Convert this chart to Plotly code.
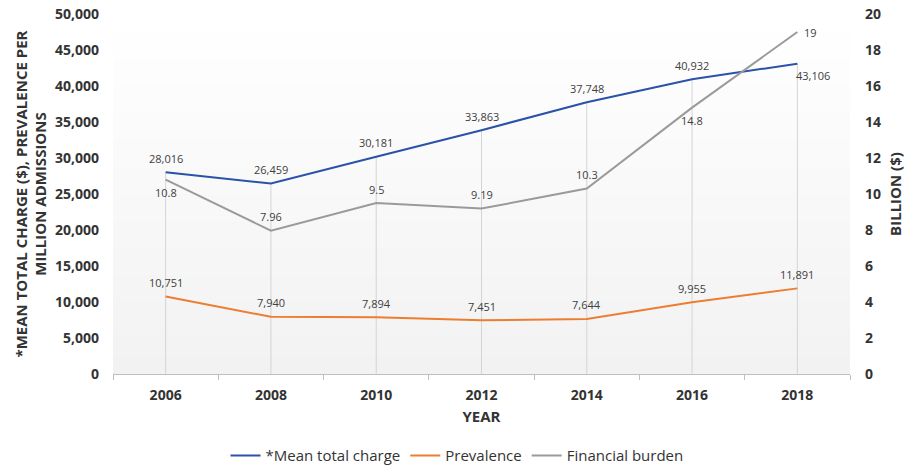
import plotly.graph_objects as go

years = ["2006", "2008", "2010", "2012", "2014", "2016", "2018"]
mean_charge = [28016, 26459, 30181, 33863, 37748, 40932, 43106]
prevalence = [10751, 7940, 7894, 7451, 7644, 9955, 11891]
burden = [10.8, 7.96, 9.5, 9.19, 10.3, 14.8, 19]

# label placement: "a" above, "b" below, "r" right, "br" below-right
mean_pos = ["a", "a", "a", "a", "a", "a", "br"]
prev_pos = ["a"] * 7
burden_pos = ["b", "a", "a", "a", "a", "b", "r"]

BLUE = "#2a52a8"
ORANGE = "#ed7d31"
GRAY = "#9a9a9a"
TXT = "#333333"
LBL = "#404040"
FONT = "Open Sans"

fig = go.Figure()

# drop lines from axis to the mean charge point
for yr, v in zip(years, mean_charge):
    fig.add_trace(go.Scatter(x=[yr, yr], y=[0, v], mode="lines",
                             line=dict(color="#d4d4d4", width=1),
                             showlegend=False, hoverinfo="skip"))

fig.add_trace(go.Scatter(x=years, y=mean_charge, name="*Mean total charge",
                         mode="lines", line=dict(color=BLUE, width=2)))
fig.add_trace(go.Scatter(x=years, y=prevalence, name="Prevalence",
                         mode="lines", line=dict(color=ORANGE, width=2)))
fig.add_trace(go.Scatter(x=years, y=burden, name="Financial burden", yaxis="y2",
                         mode="lines", line=dict(color=GRAY, width=2)))

annotations = []


def add_labels(vals, pos, yref, fmt):
    # category axis: annotations are placed by category index
    for i, (v, p) in enumerate(zip(vals, pos)):
        a = dict(x=i, y=v, xref="x", yref=yref, text=fmt(v), showarrow=False,
                 font=dict(family=FONT, size=11, color=LBL))
        if p == "a":
            a.update(yshift=14)
        elif p == "b":
            a.update(yshift=-13)
        elif p == "r":
            a.update(xanchor="left", xshift=5, yshift=0)
        elif p == "br":
            a.update(xanchor="left", xshift=-3, yshift=-12)
        annotations.append(a)


add_labels(mean_charge, mean_pos, "y", lambda v: f"{v:,}")
add_labels(prevalence, prev_pos, "y", lambda v: f"{v:,}")
add_labels(burden, burden_pos, "y2", lambda v: f"{v:g}")

# subtle vertical gradient in plot area
shapes = []
n = 40
for i in range(n):
    t = i / (n - 1)
    c = int(round(255 - 13 * t))
    shapes.append(dict(type="rect", xref="paper", yref="paper",
                       x0=0, x1=1, y0=1 - (i + 1) / n, y1=1 - i / n,
                       fillcolor=f"rgb({c},{c},{c})", line=dict(width=0),
                       layer="below"))

fig.update_layout(
    width=914, height=468,
    margin=dict(l=113, r=64, t=14, b=94),
    paper_bgcolor="white", plot_bgcolor="rgba(0,0,0,0)",
    font=dict(family=FONT, color=TXT),
    shapes=shapes,
    annotations=annotations,
    xaxis=dict(
        type="category", range=[-0.5, 6.5], automargin=False,
        showgrid=False, showline=True, linecolor="#bfbfbf", linewidth=1,
        ticks="outside", tickson="boundaries", ticklen=5, tickcolor="#bfbfbf",
        ticklabelstandoff=8,
        tickfont=dict(family=FONT, size=14, color=TXT, weight="bold"),
        title=dict(text="YEAR", font=dict(family=FONT, size=15, color=TXT, weight="bold"),
                   standoff=8),
    ),
    yaxis=dict(
        range=[0, 50000], dtick=5000, tickformat=",", automargin=False,
        showgrid=False, zeroline=False, showline=False,
        tickfont=dict(family=FONT, size=14, color=TXT, weight="bold"),
        ticklabelstandoff=13,
        title=dict(text="*MEAN TOTAL CHARGE ($), PREVALENCE PER<br>MILLION ADMISSIONS",
                   font=dict(family=FONT, size=15, color=TXT, weight="bold"),
                   standoff=4),
    ),
    yaxis2=dict(
        range=[0, 20], dtick=2, overlaying="y", side="right", automargin=False,
        showgrid=False, zeroline=False, showline=False,
        tickfont=dict(family=FONT, size=14, color=TXT, weight="bold"),
        ticklabelstandoff=14,
        title=dict(text="BILLION ($)", font=dict(family=FONT, size=15, color=TXT, weight="bold"),
                   standoff=10),
    ),
    legend=dict(orientation="h", xref="container", yref="container",
                x=0.5, xanchor="center", y=0.026, yanchor="middle",
                font=dict(family=FONT, size=15, color=TXT),
                itemwidth=30, bgcolor="rgba(0,0,0,0)"),
)

fig.write_html("out.html")
